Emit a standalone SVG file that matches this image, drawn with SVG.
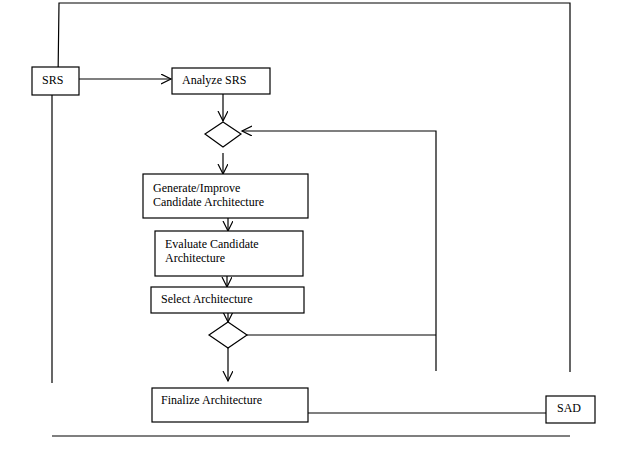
<svg xmlns="http://www.w3.org/2000/svg" width="637" height="452" viewBox="0 0 637 452">
<style>
rect,polygon{fill:#fff;stroke:#000;stroke-width:1.2}
line,polyline{stroke:#000;stroke-width:1.2;fill:none}
text{font-family:"Liberation Serif",serif;font-size:12px;fill:#000}
</style>
<defs><marker id="a" markerWidth="12" markerHeight="12" refX="10" refY="5" orient="auto" markerUnits="userSpaceOnUse"><polyline points="0,0 10,5 0,10" style="stroke:#000;fill:none;stroke-width:1.2"/></marker></defs>
<rect width="637" height="452" style="fill:#fff;stroke:none"/>
<g id="connectors">
<polyline points="58,79 59,3 570,3 570,372"/>
<line x1="52" y1="95" x2="52" y2="383"/>
<line x1="52" y1="436" x2="570" y2="436"/>
<line x1="79" y1="79" x2="171" y2="79" marker-end="url(#a)"/>
<line x1="223" y1="94" x2="223" y2="121" marker-end="url(#a)"/>
<line x1="223" y1="153" x2="223" y2="174" marker-end="url(#a)"/>
<line x1="228" y1="212" x2="228" y2="231" marker-end="url(#a)"/>
<line x1="227" y1="270" x2="227" y2="287" marker-end="url(#a)"/>
<line x1="228" y1="313" x2="228" y2="322" marker-end="url(#a)"/>
<line x1="228" y1="348" x2="228" y2="381" marker-end="url(#a)"/>
<polyline points="246,335 436,335"/>
<polyline points="436,371 436,131 242,131" marker-end="url(#a)"/>
<line x1="308" y1="413" x2="546" y2="413"/>
</g>
<g id="srs"><rect x="32" y="67" width="47" height="28"/><text x="42" y="84">SRS</text></g>
<g id="analyze"><rect x="172" y="68" width="98" height="26"/><text x="182" y="84">Analyze SRS</text></g>
<g id="d1"><polygon points="223,122 241,134 223,147 205,134"/></g>
<g id="generate"><rect x="143" y="174" width="165" height="44"/><text x="153" y="192">Generate/Improve</text><text x="153" y="206">Candidate Architecture</text></g>
<g id="evaluate"><rect x="155" y="231" width="148" height="45"/><text x="165" y="248">Evaluate Candidate</text><text x="165" y="262">Architecture</text></g>
<g id="select"><rect x="151" y="287" width="153" height="26"/><text x="161" y="303">Select Architecture</text></g>
<g id="d2"><polygon points="228,322 247,335 228,348 209,335"/></g>
<g id="finalize"><rect x="152" y="388" width="156" height="34"/><text x="161" y="404">Finalize Architecture</text></g>
<g id="sad"><rect x="546" y="396" width="49" height="27"/><text x="557" y="412">SAD</text></g>
</svg>
